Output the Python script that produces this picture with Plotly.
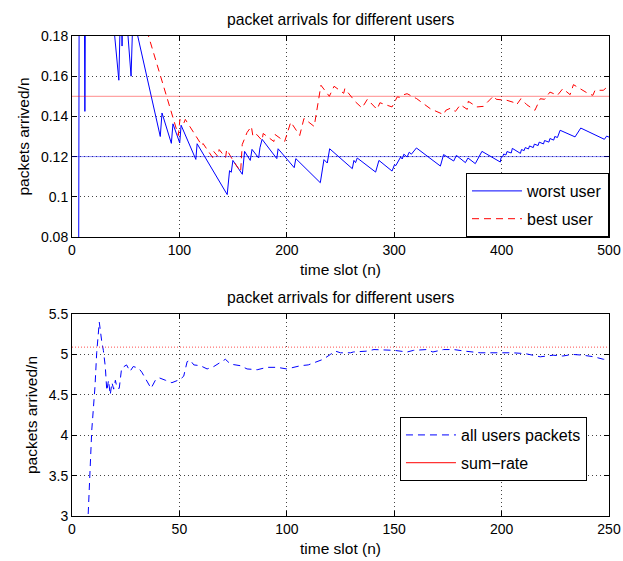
import plotly.graph_objects as go

# ---------------- data (top panel) ----------------
slots_worst = [1, 6, 7, 11, 12, 13, 38, 43.6, 45, 46.3, 46.6, 47, 50, 55, 56.7, 57,
               82.2, 83.8, 92.5, 94, 100.3, 101.6, 115.3, 116.5, 144.5, 146.7, 148.3,
               149.8, 158.6, 160.7, 166, 167.6, 173.8, 175, 177, 190.7, 191.9, 206.9,
               208.4, 231.2, 234.6, 237.7, 239.9, 261, 262.5, 264, 265.6, 282.7, 285.8,
               298, 300.3, 301.5, 306, 307.5, 309, 312, 314, 316, 320.7, 343, 346,
               355.4, 357.9, 366.3, 368.7, 375.5, 381.7, 398.8, 399.5, 401, 402, 404,
               405, 409, 410, 417.5, 418.5, 421, 422, 425, 426, 429.5, 430.5, 434, 435,
               439, 440, 444, 445, 448.5, 449.5, 452, 454.5, 468.4, 473.7, 495.7, 497.8,
               500]
worst_user = [0.0, 0.0, 0.30, 0.25, 0.1425, 0.25, 0.19, 0.158, 0.19, 0.19, 0.175, 0.19,
              0.195, 0.160, 0.19, 0.19,
              0.130, 0.1417, 0.1266, 0.1363, 0.1268, 0.1356, 0.1186, 0.1264, 0.1011,
              0.1130, 0.1122, 0.1181, 0.1112, 0.1226, 0.1181, 0.1236, 0.1193, 0.1244,
              0.1286, 0.1190, 0.1239, 0.1145, 0.1190, 0.1070, 0.1185, 0.1168, 0.1239,
              0.1140, 0.1181, 0.1170, 0.1193, 0.1123, 0.1181, 0.1128, 0.1160, 0.1155,
              0.1198, 0.1188, 0.1212, 0.1198, 0.1222, 0.1212, 0.1243, 0.1153, 0.1210,
              0.1178, 0.1206, 0.1170, 0.1193, 0.1165, 0.1226, 0.1173, 0.1195, 0.1200,
              0.1213, 0.1208, 0.1225, 0.1218, 0.1241, 0.1216, 0.1235, 0.1230, 0.1245,
              0.1238, 0.1253, 0.1245, 0.1262, 0.1255, 0.1272, 0.1263, 0.1280, 0.1272,
              0.1290, 0.1282, 0.1300, 0.1295, 0.1331, 0.1298, 0.1342, 0.1286, 0.1302,
              0.1297]

slots_best = [60, 99, 100.5, 104, 105.5, 121, 122, 131, 132, 136, 137, 143, 144, 150,
              157, 158.5, 163, 167, 168.5, 172, 177, 178, 188, 189, 198, 203.7, 212,
              216, 225.5, 231.8, 239.6, 241, 244, 253, 254, 264, 270, 275, 284, 286.7,
              298, 302.8, 305, 307, 312, 321, 333.7, 346, 348, 352, 357, 361.6, 368,
              369, 377, 383, 392.6, 395, 405, 411, 414, 418, 423.5, 431, 436, 440, 445,
              452, 457, 463.8, 466.9, 480.8, 485, 487, 494.7, 497, 500]
best_user = [0.20, 0.1305, 0.1385, 0.1365, 0.1385, 0.1255, 0.1265, 0.1195, 0.1225,
             0.1200, 0.1235, 0.1195, 0.1235, 0.1180, 0.1125, 0.1260, 0.1320, 0.1350,
             0.1300, 0.1310, 0.1280, 0.1315, 0.1275, 0.1310, 0.1275, 0.1372, 0.1305,
             0.1390, 0.1350, 0.1555, 0.1500, 0.1515, 0.1550, 0.1515, 0.1538, 0.1472,
             0.1442, 0.1485, 0.1435, 0.1468, 0.1447, 0.1497, 0.1495, 0.1505, 0.1513,
             0.1488, 0.1438, 0.1409, 0.1430, 0.1440, 0.1425, 0.1458, 0.1435, 0.1475,
             0.1447, 0.1450, 0.1502, 0.1485, 0.1480, 0.1470, 0.1458, 0.1488, 0.1458,
             0.1430, 0.1488, 0.1485, 0.1521, 0.1505, 0.1538, 0.1508, 0.1558, 0.1513,
             0.1505, 0.1530, 0.1530, 0.1540, 0.1535]

worst_target = 0.12
best_target = 0.15

# ---------------- data (bottom panel) ----------------
slots_all = [1, 7.5, 9.2, 9.9, 10.7, 11.5, 12.7, 13.8, 14.6, 15.5, 16.2, 17, 17.8, 18.6,
             19.4, 20.2, 21, 22, 23.1, 25.4, 27, 28.5, 31, 32.5, 36.8, 38.8, 40.6, 43.5,
             46.5, 50.3, 52, 53.6, 55, 56.7, 59.8, 62.9, 66, 69, 71.4, 73.8, 78.4, 81.5,
             86.2, 90.8, 95.5, 100, 103, 106.4, 110, 114, 117, 120.3, 122.7, 125, 129.7,
             131, 137, 140.6, 150, 156, 159, 165, 168, 173, 177.7, 183, 190, 199, 205,
             211, 218, 224, 228.5, 233, 238, 243, 247.4, 250]
all_users = [2.0, 3.0, 4.06, 4.31, 4.60, 5.02, 5.40, 5.17, 5.05, 4.85, 4.55, 4.68, 4.50,
             4.65, 4.57, 4.68, 4.58, 4.58, 4.83, 4.87, 4.79, 4.85, 4.83, 4.78, 4.58, 4.68,
             4.71, 4.68, 4.65, 4.69, 4.73, 4.91, 4.93, 4.87, 4.86, 4.82, 4.85, 4.90, 4.94,
             4.88, 4.86, 4.82, 4.81, 4.84, 4.84, 4.82, 4.84, 4.86, 4.87, 4.91, 4.94, 5.00,
             5.04, 5.02, 5.02, 5.03, 5.04, 5.06, 5.05, 5.03, 5.05, 5.06, 5.03, 5.06, 5.06,
             5.04, 5.02, 5.02, 5.02, 5.01, 4.97, 4.99, 4.98, 5.00, 4.99, 4.97, 4.94, 4.94]
sum_rate = 5.09

# ---------------- ticks ----------------
top_x_ticks = [0, 100, 200, 300, 400, 500]
top_y_ticks = [0.08, 0.1, 0.12, 0.14, 0.16, 0.18]
top_y_labels = ["0.08", "0.1", "0.12", "0.14", "0.16", "0.18"]
bot_x_ticks = [0, 50, 100, 150, 200, 250]
bot_y_ticks = [3, 3.5, 4, 4.5, 5, 5.5]
bot_y_labels = ["3", "3.5", "4", "4.5", "5", "5.5"]

title_text = "packet arrivals for different users"
x_label = "time slot (n)"
y_label = "packets arrived/n"

FONT = "Liberation Sans, Arial, sans-serif"
BLUE = "#0000ff"
RED = "#ff0000"
DASH = "7px,5px"

fig = go.Figure()

fig.add_trace(go.Scatter(x=slots_worst, y=worst_user, mode="lines", name="worst user",
                         line=dict(color=BLUE, width=1), xaxis="x", yaxis="y",
                         legend="legend", legendgroup="w"))
fig.add_trace(go.Scatter(x=slots_best, y=best_user, mode="lines", name="best user",
                         line=dict(color=RED, width=1, dash=DASH), xaxis="x", yaxis="y",
                         legend="legend", legendgroup="b"))

fig.add_trace(go.Scatter(x=slots_all, y=all_users, mode="lines", name="all users packets",
                         line=dict(color=BLUE, width=1, dash=DASH), xaxis="x2", yaxis="y2",
                         legend="legend2", legendgroup="a"))
fig.add_trace(go.Scatter(x=[None], y=[None], mode="lines", name="sum\u2212rate",
                         line=dict(color=RED, width=1), xaxis="x2", yaxis="y2",
                         legend="legend2", legendgroup="s"))

# reference lines
fig.add_shape(type="line", xref="x domain", yref="y", x0=0, x1=1,
              y0=best_target, y1=best_target, line=dict(color="rgba(255,0,0,0.45)", width=1))
fig.add_shape(type="line", xref="x domain", yref="y", x0=0, x1=1,
              y0=worst_target, y1=worst_target, line=dict(color="rgba(0,0,255,0.45)", width=1))
fig.add_shape(type="line", xref="x2 domain", yref="y2", x0=0, x1=1,
              y0=sum_rate, y1=sum_rate,
              line=dict(color="rgba(255,0,0,0.7)", width=1, dash="1px,2px"))

axis_common = dict(showline=True, linecolor="black", linewidth=1, mirror="allticks",
                   ticks="inside", ticklen=5, tickcolor="black", showgrid=True,
                   gridcolor="#444444", griddash="1px,3px", gridwidth=1, zeroline=False,
                   automargin=False,
                   tickfont=dict(family=FONT, size=14, color="black"))

top_dom = [0.58125, 1.0]
bot_dom = [0.0, 0.42083]

fig.update_layout(
    width=623, height=561, autosize=False,
    margin=dict(l=72, r=14, t=36, b=45),
    plot_bgcolor="white", paper_bgcolor="white",
    font=dict(family=FONT, size=14, color="black"),
    xaxis=dict(axis_common, domain=[0, 1], anchor="y", range=[0, 500],
               tickvals=top_x_ticks,
               title=dict(text=x_label, font=dict(size=15.5), standoff=7)),
    yaxis=dict(axis_common, domain=top_dom, anchor="x", range=[0.08, 0.18],
               tickvals=top_y_ticks, ticktext=top_y_labels,
               title=dict(text=y_label, font=dict(size=15.5), standoff=7)),
    xaxis2=dict(axis_common, domain=[0, 1], anchor="y2", range=[0, 250],
                tickvals=bot_x_ticks,
                title=dict(text=x_label, font=dict(size=15.5), standoff=7)),
    yaxis2=dict(axis_common, domain=bot_dom, anchor="x2", range=[3, 5.5],
                tickvals=bot_y_ticks, ticktext=bot_y_labels,
                title=dict(text=y_label, font=dict(size=15.5), standoff=7)),
    legend=dict(x=1, xanchor="right", y=top_dom[0], yanchor="bottom",
                bordercolor="black", borderwidth=1, bgcolor="white",
                font=dict(size=16), tracegroupgap=4, itemwidth=50),
    legend2=dict(x=0.959, xanchor="right", y=0.0729, yanchor="bottom",
                 bordercolor="black", borderwidth=1, bgcolor="white",
                 font=dict(size=16), tracegroupgap=4, itemwidth=50),
    annotations=[
        dict(text=title_text, xref="paper", yref="paper", x=0.5, y=top_dom[1],
             xanchor="center", yanchor="bottom", yshift=6, showarrow=False,
             font=dict(size=15.7)),
        dict(text=title_text, xref="paper", yref="paper", x=0.5, y=bot_dom[1],
             xanchor="center", yanchor="bottom", yshift=6, showarrow=False,
             font=dict(size=15.7)),
    ],
)

# remove the default page margin so the figure fills the window exactly
fig.write_html("out.html",
               config={"displayModeBar": False},
               post_script="document.body.style.margin='0';"
                           "document.body.style.overflow='hidden';")
